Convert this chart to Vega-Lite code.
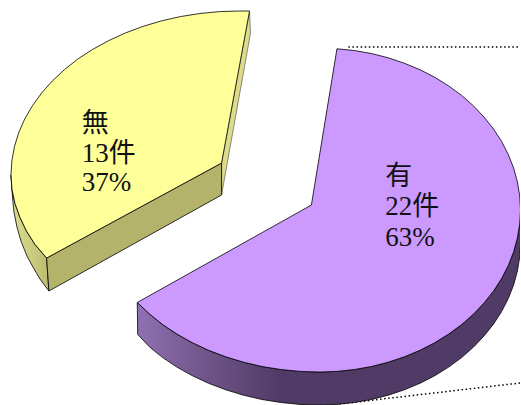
{"$schema":"https://vega.github.io/schema/vega-lite/v6.json","width":521,"height":405,"autosize":{"type":"fit","contains":"padding"},"padding":0,"background":"white","view":{"stroke":null},
"datasets":{
"ysidel":[{"i":0,"x":11,"y":175},{"i":1,"x":12,"y":189.3},{"i":2,"x":15,"y":203.5},{"i":3,"x":20,"y":217.4},{"i":4,"x":26.5,"y":231},{"i":5,"x":35,"y":244.3},{"i":6,"x":46.7,"y":258},{"i":7,"x":49,"y":291},{"i":8,"x":40,"y":279},{"i":9,"x":33,"y":267},{"i":10,"x":27,"y":256},{"i":11,"x":21,"y":241},{"i":12,"x":17,"y":227},{"i":13,"x":14,"y":212},{"i":14,"x":12.5,"y":197},{"i":15,"x":11,"y":175}],
"yfront":[{"i":0,"x":46.7,"y":258},{"i":1,"x":222,"y":163},{"i":2,"x":222,"y":195},{"i":3,"x":49,"y":291},{"i":4,"x":46.7,"y":258}],
"yright":[{"i":0,"x":250,"y":11},{"i":1,"x":251,"y":33},{"i":2,"x":222,"y":195},{"i":3,"x":222,"y":163},{"i":4,"x":250,"y":11}],
"ytop":[{"i":0,"x":222,"y":163},{"i":1,"x":250,"y":11},{"i":2,"x":240,"y":11},{"i":3,"x":220,"y":11.6},{"i":4,"x":200.2,"y":13.5},{"i":5,"x":180.7,"y":16.6},{"i":6,"x":161.7,"y":20.9},{"i":7,"x":143.2,"y":26.4},{"i":8,"x":125.5,"y":33},{"i":9,"x":108.7,"y":40.7},{"i":10,"x":92.8,"y":49.4},{"i":11,"x":78,"y":59},{"i":12,"x":64.6,"y":69.6},{"i":13,"x":52.4,"y":81},{"i":14,"x":41.7,"y":93},{"i":15,"x":32.5,"y":105.7},{"i":16,"x":24.8,"y":118.9},{"i":17,"x":18.8,"y":132.6},{"i":18,"x":14.5,"y":146.5},{"i":19,"x":11.9,"y":160.7},{"i":20,"x":11,"y":175},{"i":21,"x":12,"y":189.3},{"i":22,"x":15,"y":203.5},{"i":23,"x":20,"y":217.4},{"i":24,"x":26.5,"y":231},{"i":25,"x":35,"y":244.3},{"i":26,"x":46.7,"y":258},{"i":27,"x":222,"y":163}],
"pside":[{"i":0,"x":137.5,"y":302.5},{"i":1,"x":150,"y":314.1},{"i":2,"x":163,"y":324.6},{"i":3,"x":177.3,"y":334.1},{"i":4,"x":192.7,"y":342.7},{"i":5,"x":209,"y":350.3},{"i":6,"x":226.2,"y":356.8},{"i":7,"x":244,"y":362.2},{"i":8,"x":262.5,"y":366.5},{"i":9,"x":281.4,"y":369.5},{"i":10,"x":300.7,"y":371.4},{"i":11,"x":320,"y":372},{"i":12,"x":337.6,"y":371.4},{"i":13,"x":355,"y":369.5},{"i":14,"x":372.2,"y":366.5},{"i":15,"x":388.9,"y":362.2},{"i":16,"x":405.2,"y":356.8},{"i":17,"x":420.8,"y":350.3},{"i":18,"x":435.6,"y":342.7},{"i":19,"x":449.5,"y":334.1},{"i":20,"x":462.5,"y":324.6},{"i":21,"x":474.4,"y":314.1},{"i":22,"x":485,"y":302.9},{"i":23,"x":494.5,"y":291},{"i":24,"x":502.6,"y":278.5},{"i":25,"x":509.3,"y":265.4},{"i":26,"x":514.6,"y":251.9},{"i":27,"x":518.4,"y":238.1},{"i":28,"x":520.7,"y":224.1},{"i":29,"x":521.5,"y":210},{"i":30,"x":521.5,"y":243},{"i":31,"x":520.7,"y":257.1},{"i":32,"x":518.4,"y":271.1},{"i":33,"x":514.6,"y":284.9},{"i":34,"x":509.3,"y":298.4},{"i":35,"x":502.6,"y":311.5},{"i":36,"x":494.5,"y":324},{"i":37,"x":485,"y":335.9},{"i":38,"x":474.4,"y":347.1},{"i":39,"x":462.5,"y":357.6},{"i":40,"x":449.5,"y":367.1},{"i":41,"x":435.6,"y":375.7},{"i":42,"x":420.8,"y":383.3},{"i":43,"x":405.2,"y":389.8},{"i":44,"x":388.9,"y":395.2},{"i":45,"x":372.2,"y":399.5},{"i":46,"x":355,"y":402.5},{"i":47,"x":337.6,"y":404.4},{"i":48,"x":320,"y":405},{"i":49,"x":300.7,"y":404.4},{"i":50,"x":281.4,"y":402.5},{"i":51,"x":262.5,"y":399.5},{"i":52,"x":244,"y":395.2},{"i":53,"x":226.2,"y":389.8},{"i":54,"x":209,"y":383.3},{"i":55,"x":192.7,"y":375.7},{"i":56,"x":177.3,"y":367.1},{"i":57,"x":163,"y":357.6},{"i":58,"x":150,"y":347.1},{"i":59,"x":138,"y":334.5},{"i":60,"x":137.5,"y":302.5}],
"ptop":[{"i":0,"x":312,"y":205},{"i":1,"x":337.6,"y":48.8},{"i":2,"x":355,"y":50.5},{"i":3,"x":372,"y":53.5},{"i":4,"x":389,"y":57.8},{"i":5,"x":405,"y":63.2},{"i":6,"x":420.8,"y":69.7},{"i":7,"x":435.6,"y":77.3},{"i":8,"x":449.5,"y":85.9},{"i":9,"x":462.5,"y":95.4},{"i":10,"x":474.4,"y":105.9},{"i":11,"x":485,"y":117.1},{"i":12,"x":494.5,"y":129},{"i":13,"x":502.6,"y":141.5},{"i":14,"x":509.3,"y":154.6},{"i":15,"x":514.6,"y":168},{"i":16,"x":518.4,"y":181.9},{"i":17,"x":520.7,"y":195.9},{"i":18,"x":521.5,"y":210},{"i":19,"x":520.7,"y":224.1},{"i":20,"x":518.4,"y":238.1},{"i":21,"x":514.6,"y":251.9},{"i":22,"x":509.3,"y":265.4},{"i":23,"x":502.6,"y":278.5},{"i":24,"x":494.5,"y":291},{"i":25,"x":485,"y":302.9},{"i":26,"x":474.4,"y":314.1},{"i":27,"x":462.5,"y":324.6},{"i":28,"x":449.5,"y":334.1},{"i":29,"x":435.6,"y":342.7},{"i":30,"x":420.8,"y":350.3},{"i":31,"x":405.2,"y":356.8},{"i":32,"x":388.9,"y":362.2},{"i":33,"x":372.2,"y":366.5},{"i":34,"x":355,"y":369.5},{"i":35,"x":337.6,"y":371.4},{"i":36,"x":320,"y":372},{"i":37,"x":300.7,"y":371.4},{"i":38,"x":281.4,"y":369.5},{"i":39,"x":262.5,"y":366.5},{"i":40,"x":244,"y":362.2},{"i":41,"x":226.2,"y":356.8},{"i":42,"x":209,"y":350.3},{"i":43,"x":192.7,"y":342.7},{"i":44,"x":177.3,"y":334.1},{"i":45,"x":163,"y":324.6},{"i":46,"x":150,"y":314.1},{"i":47,"x":137.5,"y":302.5},{"i":48,"x":312,"y":205}],
"dots":[{"x":349,"y":47,"x2":521,"y2":47},{"x":340,"y":404,"x2":521,"y2":383}],
"labels":[{"x":82,"y":132,"t":"無"},{"x":82,"y":162,"t":"13件"},{"x":82,"y":191,"t":"37%"},{"x":386,"y":185,"t":"有"},{"x":386,"y":215,"t":"22件"},{"x":386,"y":246,"t":"63%"}]},
"encoding":{"x":{"field":"x","type":"quantitative","scale":{"domain":[0,521]},"axis":null},"y":{"field":"y","type":"quantitative","scale":{"domain":[405,0]},"axis":null}},
"layer":[
{"data":{"name":"dots"},"mark":{"type":"rule","stroke":"#000","strokeWidth":1.5,"strokeDash":[1.5,2.6]},"encoding":{"x2":{"field":"x2"},"y2":{"field":"y2"}}},
{"data":{"name":"ysidel"},"mark":{"type":"line","clip":true,"fill":{"gradient":"linear","x1":0,"y1":0,"x2":1,"y2":0,"stops":[{"offset":0,"color":"#dede8e"},{"offset":1,"color":"#bcbc72"}]},"stroke":"#000","strokeWidth":0.8},"encoding":{"order":{"field":"i"}}},
{"data":{"name":"yright"},"mark":{"type":"line","clip":true,"fill":"#dcdc8c","stroke":"#444","strokeWidth":0.6},"encoding":{"order":{"field":"i"}}},
{"data":{"name":"yfront"},"mark":{"type":"line","clip":true,"fill":"#b3b36b","stroke":"#000","strokeWidth":0.8},"encoding":{"order":{"field":"i"}}},
{"data":{"name":"ytop"},"mark":{"type":"line","clip":true,"fill":"#ffff99","stroke":"#000","strokeWidth":0.8},"encoding":{"order":{"field":"i"}}},
{"data":{"name":"pside"},"mark":{"type":"line","clip":true,"fill":{"gradient":"linear","x1":0,"y1":0,"x2":1,"y2":0,"stops":[{"offset":0,"color":"#8f70b3"},{"offset":0.15,"color":"#75598f"},{"offset":0.37,"color":"#503b66"},{"offset":1,"color":"#503b66"}]},"stroke":"#000","strokeWidth":0.8},"encoding":{"order":{"field":"i"}}},
{"data":{"name":"ptop"},"mark":{"type":"line","clip":true,"fill":"#cc99ff","stroke":"#000","strokeWidth":0.8},"encoding":{"order":{"field":"i"}}},
{"data":{"name":"labels"},"mark":{"type":"text","align":"left","baseline":"alphabetic","font":"Liberation Serif, Noto Sans CJK JP","fontSize":27,"fontWeight":"normal","color":"#111"},"encoding":{"text":{"field":"t"}}}
]}
